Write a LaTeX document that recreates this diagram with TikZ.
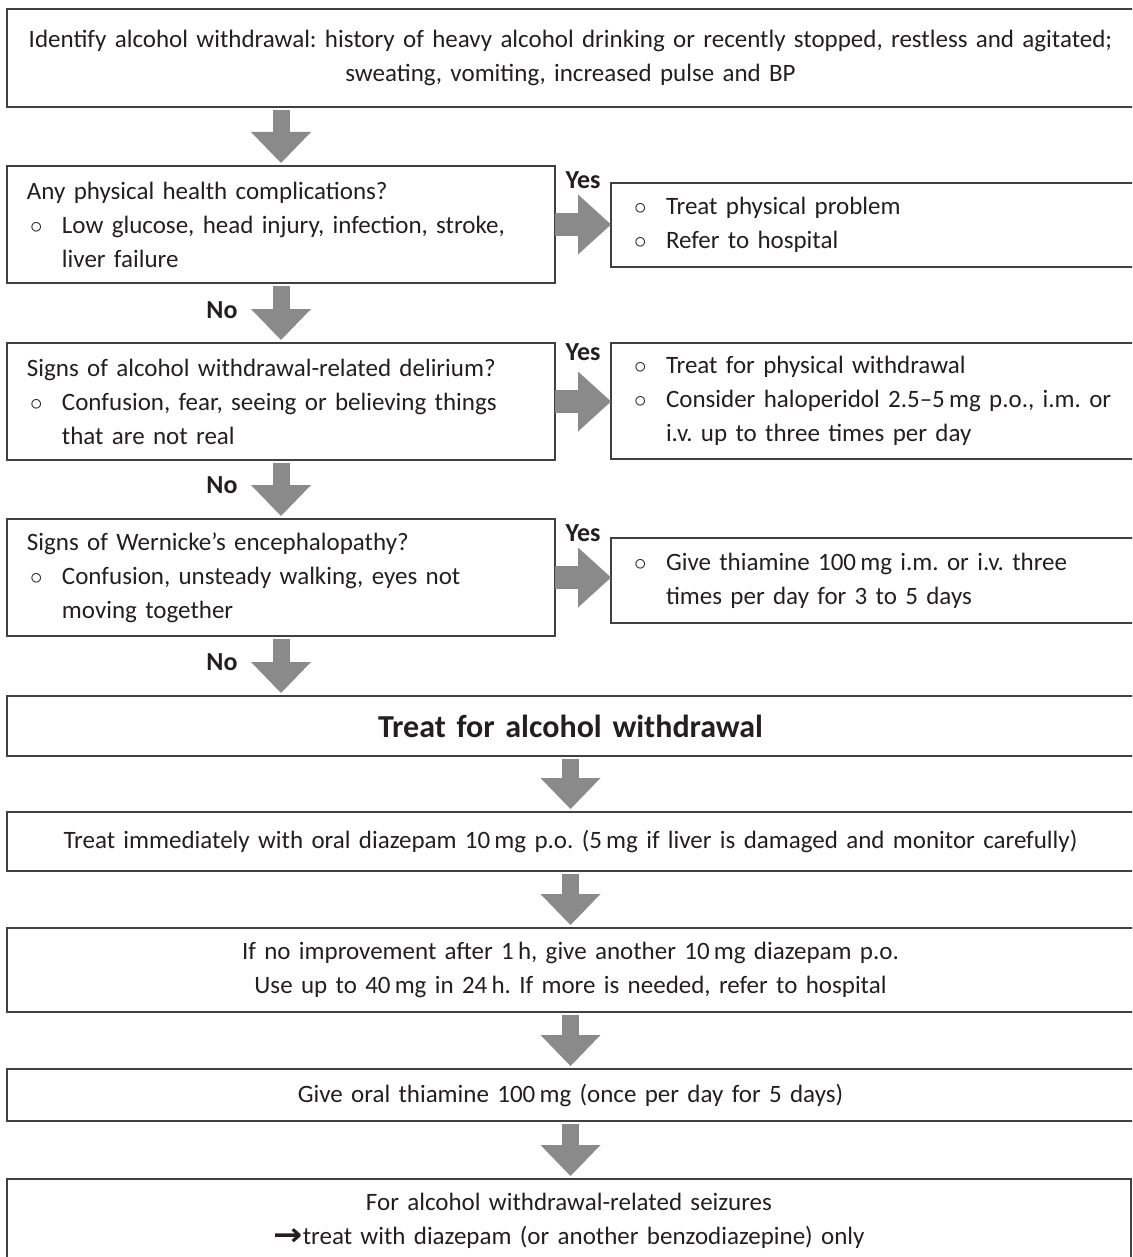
\documentclass[tikz,border=0pt]{standalone}
\usepackage{fontspec}
\setmainfont{Carlito}[WordSpace=0.8]
\newfontfamily\symfont{DejaVu Sans}
\usetikzlibrary{arrows.meta}
\frenchspacing

\definecolor{inkc}{RGB}{35,31,32}
\definecolor{boxline}{RGB}{64,64,64}
\definecolor{arrowgray}{RGB}{138,138,138}

\newcommand{\bul}{\makebox[35pt][l]{\hspace{3pt}$\circ$}}
\newcommand{\ind}{\hspace*{35pt}}
\newcommand{\bigarr}{\raisebox{-1pt}{\scalebox{1.4}[1.25]{\symfont\bfseries →}}}

\begin{document}
\begin{tikzpicture}[x=1pt,y=-1pt]
\tikzset{ box/.style={draw=boxline, line width=1.4pt, anchor=north west, inner xsep=20pt, inner ysep=0pt, outer sep=0pt, text=inkc, font=\fontsize{25}{34}\selectfont},
  lbox/.style={box, align=left},
  cbox/.style={box, align=center},
  down/.style={draw=arrowgray, line width=17pt, -{Triangle[length=31pt,width=60pt,line width=0pt]}, shorten <=3pt, shorten >=3pt},
  yes/.style={draw=arrowgray, line width=23pt, -{Triangle[length=33pt,width=60pt,line width=0pt]}},
  lbl/.style={text=inkc, font=\fontsize{26}{28}\selectfont\bfseries},
}
\useasboundingbox (0,0) rectangle (1132,1257);
\clip (0,0) rectangle (1132,1257);
%\draw [lightgray, dashed](0,0) grid[step=50] (1132,1257);

\node [cbox, text width=1087pt, minimum height=98pt] (ID) at (7,9)
  {Identify alcohol withdrawal: history of heavy alcohol drinking or recently stopped, restless and agitated;\\ sweating, vomiting, increased pulse and BP};

\node [lbox, text width=508pt, minimum height=117pt] (PH) at (7,166)
  {Any physical health complications?\\ \bul Low glucose, head injury, infection, stroke,\\ \ind liver failure};
\node [lbox, text width=483pt, minimum height=84pt] (PHY) at (611,183)
  {\bul Treat physical problem\\ \bul Refer to hospital};

\node [lbox, text width=508pt, minimum height=117pt] (DE) at (7,343)
  {Signs of alcohol withdrawal-related delirium?\\ \bul Confusion, fear, seeing or believing things\\ \ind that are not real};
\node [lbox, text width=483pt, minimum height=116pt] (DEY) at (611,343)
  {\bul Treat for physical withdrawal\\ \bul Consider haloperidol 2.5–5\,mg p.o., i.m. or\\ \ind i.v. up to three times per day};

\node [lbox, text width=508pt, minimum height=117pt] (WE) at (7,519)
  {Signs of Wernicke’s encephalopathy?\\ \bul Confusion, unsteady walking, eyes not\\ \ind moving together};
\node [lbox, text width=483pt, minimum height=85pt] (WEY) at (611,538)
  {\bul Give thiamine 100\,mg i.m. or i.v. three\\ \ind times per day for 3 to 5 days};

\node [cbox, text width=1087pt, minimum height=60pt, font=\fontsize{32}{34}\selectfont\bfseries] (TR) at (7,696)
  {Treat for alcohol withdrawal};
\node [cbox, text width=1087pt, minimum height=59pt] (DZ) at (7,812)
  {Treat immediately with oral diazepam 10\,mg p.o. (5\,mg if liver is damaged and monitor carefully)};
\node [cbox, text width=1087pt, minimum height=84pt] (RE) at (7,928)
  {If no improvement after 1\,h, give another 10\,mg diazepam p.o.\\ Use up to 40\,mg in 24\,h. If more is needed, refer to hospital};
\node [cbox, text width=1087pt, minimum height=52pt] (TH) at (7,1069)
  {Give oral thiamine 100\,mg (once per day for 5 days)};
\node [cbox, text width=1084pt, minimum height=84pt] (SZ) at (7,1179)
  {For alcohol withdrawal-related seizures\\ \bigarr treat with diazepam (or another benzodiazepine) only};

\draw [down] (ID.south -| PH.north) -- (PH.north);
\draw [down] (PH.south) -- (DE.north);
\draw [down] (DE.south) -- (WE.north);
\draw [down] (WE.south) -- (WE.south |- TR.north);
\draw [down] (TR.south) -- (DZ.north);
\draw [down] (DZ.south) -- (RE.north);
\draw [down] (RE.south) -- (TH.north);
\draw [down] (TH.south) -- (TH.south |- SZ.north);

\draw [yes] (PH.east) -- (PHY.west |- PH.east);
\draw [yes] (DE.east) -- (DEY.west |- DE.east);
\draw [yes] (WE.east) -- (WEY.west |- WE.east);

\node [lbl] (Y1) at (583,180) {Yes};
\node [lbl] (Y2) at (583,352) {Yes};
\node [lbl] (Y3) at (583,533) {Yes};
\node [lbl] (N1) at (222,310) {No};
\node [lbl] (N2) at (222,485) {No};
\node [lbl] (N3) at (222,662) {No};

\end{tikzpicture}
\end{document}
